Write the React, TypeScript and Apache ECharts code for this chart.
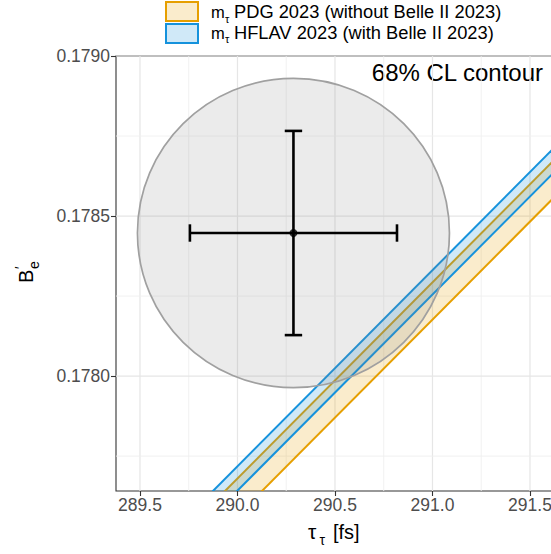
import React, { useEffect, useRef } from "react";
import * as echarts from "echarts";

// ---- data ----
const xTickValues = [289.5, 290.0, 290.5, 291.0, 291.5];
const xMinorValues = [289.75, 290.25, 290.75, 291.25];
const yTickValues = [0.178, 0.1785, 0.179];
const yMinorValues = [0.17775, 0.17825, 0.17875];
const xRange = [289.377, 291.736];
const yRange = [0.177641, 0.179];
const contourCenter = [290.287, 0.178447];
const contourRadius = [0.8, 0.000483];
const errorHalf = [0.531, 0.000319];
// band edges given as tau value where the edge crosses B = bandRefB (edges are B proportional to tau)
const bandRefB = 0.178;
const pdgBand = [290.522, 290.712];
const hflavBand = [290.46, 290.584];
const legendLabels = ["PDG 2023 (without Belle II 2023)", "HFLAV 2023 (with Belle II 2023)"];
const contourLabel = "68% CL contour";

const FONT = "Liberation Sans";
const ORANGE = "#E69F00";
const BLUE = "#1592DC";

function bandSeries(band: number[], stroke: string, fill: string) {
  return {
    type: "custom",
    clip: true,
    data: [band],
    renderItem: (params: any, api: any) => {
      const a = api.value(0);
      const c = api.value(1);
      const bLo = yRange[0] - 0.0003;
      const bHi = yRange[1] + 0.0003;
      const t = (ref: number, b: number) => (ref * b) / bandRefB;
      const p1 = api.coord([t(a, bLo), bLo]);
      const p2 = api.coord([t(a, bHi), bHi]);
      const p3 = api.coord([t(c, bHi), bHi]);
      const p4 = api.coord([t(c, bLo), bLo]);
      return {
        type: "group",
        children: [
          { type: "polygon", shape: { points: [p1, p2, p3, p4] }, style: { fill } },
          { type: "line", shape: { x1: p1[0], y1: p1[1], x2: p2[0], y2: p2[1] }, style: { stroke, lineWidth: 2 } },
          { type: "line", shape: { x1: p4[0], y1: p4[1], x2: p3[0], y2: p3[1] }, style: { stroke, lineWidth: 2 } },
        ],
      };
    },
  };
}

export default function App() {
  const ref = useRef<HTMLDivElement>(null);
  useEffect(() => {
    if (!ref.current) return;
    const chart = echarts.init(ref.current, null, { renderer: "svg" });
    const gridData = [
      ...xTickValues.map((v) => [v, 0, 1]),
      ...xMinorValues.map((v) => [v, 0, 0]),
      ...yTickValues.map((v) => [v, 1, 1]),
      ...yMinorValues.map((v) => [v, 1, 0]),
    ];
    const option: any = {
      animation: false,
      textStyle: { fontFamily: FONT },
      grid: {
        left: 116,
        top: 56,
        width: 460,
        height: 435,
        show: true,
        borderColor: "#333333",
        borderWidth: 1.1,
      },
      xAxis: {
        type: "value",
        min: xRange[0],
        max: xRange[1],
        axisLine: { show: false },
        splitLine: { show: false },
        axisTick: { show: true, customValues: xTickValues, length: 5, lineStyle: { color: "#333333", width: 1.1 } },
        axisLabel: {
          customValues: xTickValues,
          formatter: (v: number) => v.toFixed(1),
          color: "#4D4D4D",
          fontSize: 17.5,
          margin: 5,
          fontFamily: FONT,
        },
      },
      yAxis: {
        type: "value",
        min: yRange[0],
        max: yRange[1],
        axisLine: { show: false },
        splitLine: { show: false },
        axisTick: { show: true, customValues: yTickValues, length: 5, lineStyle: { color: "#333333", width: 1.1 } },
        axisLabel: {
          customValues: yTickValues,
          formatter: (v: number) => v.toFixed(4),
          color: "#4D4D4D",
          fontSize: 17.5,
          margin: 6,
          fontFamily: FONT,
        },
      },
      series: [
        {
          type: "custom",
          data: gridData,
          silent: true,
          renderItem: (params: any, api: any) => {
            const v = api.value(0);
            const orient = api.value(1);
            const major = api.value(2);
            const cs = params.coordSys;
            const style = { stroke: major ? "#E6E6E6" : "#EFEFEF", lineWidth: major ? 1.2 : 0.9 };
            if (orient === 0) {
              const px = api.coord([v, yRange[0]])[0];
              return { type: "line", shape: { x1: px, y1: cs.y, x2: px, y2: cs.y + cs.height }, style };
            }
            const py = api.coord([xRange[0], v])[1];
            return { type: "line", shape: { x1: cs.x, y1: py, x2: cs.x + cs.width, y2: py }, style };
          },
        },
        bandSeries(pdgBand, ORANGE, "rgba(230,159,0,0.2)"),
        bandSeries(hflavBand, BLUE, "rgba(21,146,220,0.2)"),
        {
          type: "custom",
          clip: true,
          data: [[contourCenter[0], contourCenter[1], contourRadius[0] * 2, contourRadius[1] * 2]],
          renderItem: (params: any, api: any) => {
            const c = api.coord([api.value(0), api.value(1)]);
            const s = api.size([api.value(2), api.value(3)]);
            return {
              type: "ellipse",
              shape: { cx: c[0], cy: c[1], rx: s[0] / 2, ry: s[1] / 2 },
              style: { fill: "rgba(128,128,128,0.16)", stroke: "#A0A0A0", lineWidth: 1.7 },
            };
          },
        },
        {
          type: "custom",
          data: [[contourCenter[0], contourCenter[1], errorHalf[0], errorHalf[1]]],
          renderItem: (params: any, api: any) => {
            const x = api.value(0);
            const y = api.value(1);
            const ex = api.value(2);
            const ey = api.value(3);
            const l = api.coord([x - ex, y]);
            const r = api.coord([x + ex, y]);
            const t = api.coord([x, y + ey]);
            const b = api.coord([x, y - ey]);
            const cap = 8.7;
            const st = { stroke: "#000", lineWidth: 2.6 };
            return {
              type: "group",
              children: [
                { type: "line", shape: { x1: l[0], y1: l[1], x2: r[0], y2: r[1] }, style: st },
                { type: "line", shape: { x1: l[0], y1: l[1] - cap, x2: l[0], y2: l[1] + cap }, style: st },
                { type: "line", shape: { x1: r[0], y1: r[1] - cap, x2: r[0], y2: r[1] + cap }, style: st },
                { type: "line", shape: { x1: t[0], y1: t[1], x2: b[0], y2: b[1] }, style: st },
                { type: "line", shape: { x1: t[0] - cap, y1: t[1], x2: t[0] + cap, y2: t[1] }, style: st },
                { type: "line", shape: { x1: b[0] - cap, y1: b[1], x2: b[0] + cap, y2: b[1] }, style: st },
              ],
            };
          },
        },
        {
          type: "scatter",
          data: [contourCenter],
          symbolSize: 8,
          itemStyle: { color: "#000" },
        },
      ],
      graphic: [
        // legend
        { type: "rect", shape: { x: 166, y: 2, width: 32, height: 19 }, style: { fill: "rgba(230,159,0,0.2)", stroke: ORANGE, lineWidth: 2 } },
        { type: "rect", shape: { x: 166, y: 24, width: 32, height: 19 }, style: { fill: "rgba(21,146,220,0.2)", stroke: BLUE, lineWidth: 2 } },
        { type: "text", x: 211, y: 20.5, style: { text: "m", font: `16.5px "${FONT}"`, fill: "#000", textVerticalAlign: "bottom" } },
        { type: "text", x: 225, y: 24, style: { text: "τ", font: `11px "${FONT}"`, fill: "#000", textVerticalAlign: "bottom" } },
        { type: "text", x: 234, y: 20.5, style: { text: legendLabels[0], font: `18.3px "${FONT}"`, fill: "#000", textVerticalAlign: "bottom" } },
        { type: "text", x: 211, y: 41, style: { text: "m", font: `16.5px "${FONT}"`, fill: "#000", textVerticalAlign: "bottom" } },
        { type: "text", x: 225, y: 44.5, style: { text: "τ", font: `11px "${FONT}"`, fill: "#000", textVerticalAlign: "bottom" } },
        { type: "text", x: 234, y: 41, style: { text: legendLabels[1], font: `18.3px "${FONT}"`, fill: "#000", textVerticalAlign: "bottom" } },
        // annotation
        { type: "text", x: 543, y: 84.5, style: { text: contourLabel, font: `24px "${FONT}"`, fill: "#000", textAlign: "right", textVerticalAlign: "bottom" } },
        // x title
        { type: "text", x: 308, y: 542, style: { text: "τ", font: `21px "${FONT}"`, fill: "#000", textVerticalAlign: "bottom" } },
        { type: "text", x: 319.5, y: 547, style: { text: "τ", font: `14px "${FONT}"`, fill: "#000", textVerticalAlign: "bottom" } },
        { type: "text", x: 333, y: 542, style: { text: "[fs]", font: `20px "${FONT}"`, fill: "#000", textVerticalAlign: "bottom" } },
        // y title (rotated)
        {
          type: "group",
          x: 36,
          y: 283,
          rotation: Math.PI / 2,
          children: [
            { type: "text", x: 0, y: 0, style: { text: "B", font: `20px "${FONT}"`, fill: "#000", textVerticalAlign: "bottom" } },
            { type: "text", x: 14, y: 5, style: { text: "e", font: `14px "${FONT}"`, fill: "#000", textVerticalAlign: "bottom" } },
            { type: "text", x: 14, y: -9, style: { text: "′", font: `14px "${FONT}"`, fill: "#000", textVerticalAlign: "bottom" } },
          ],
        },
      ],
    };
    chart.setOption(option);
    return () => chart.dispose();
  }, []);
  return (
    <div style={{ position: "fixed", left: 0, top: 0, width: 551, height: 554, overflow: "hidden", background: "#fff" }}>
      <div ref={ref} style={{ width: 600, height: 554 }} />
    </div>
  );
}
